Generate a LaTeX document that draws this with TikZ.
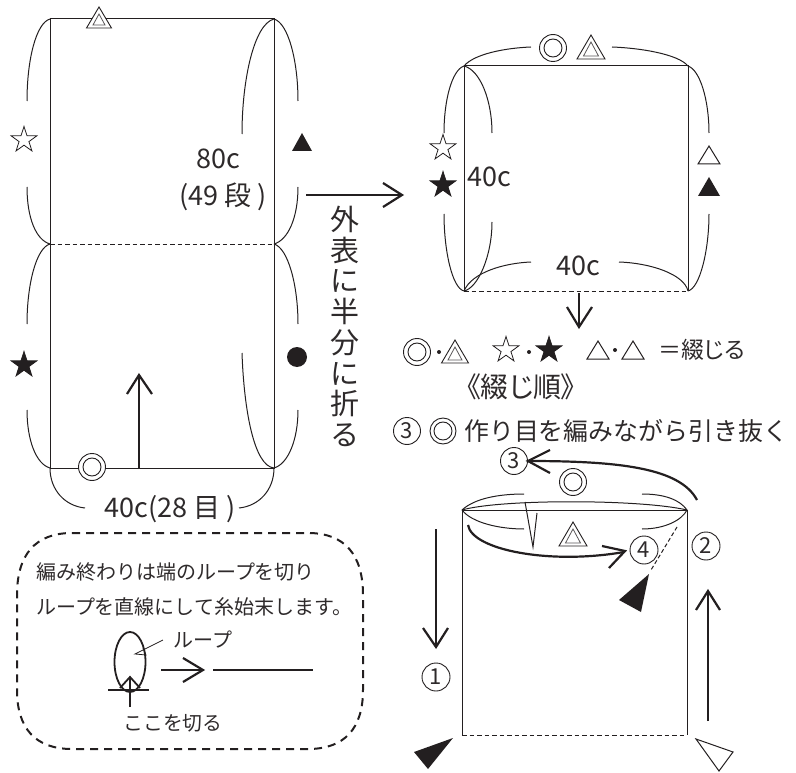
\documentclass[tikz,border=0pt]{standalone}
\usepackage{fontspec}
\usetikzlibrary{shapes.geometric}
\setmainfont{Noto Sans CJK JP}
\newfontfamily\paltfont[RawFeature=+palt]{Noto Sans CJK JP}
\definecolor{ink}{HTML}{231F20}
\definecolor{txt}{HTML}{2E2A2B}
\tikzset{
  thin line/.style={draw=ink,line width=1pt},
  edge line/.style={draw=ink,line width=1pt},
  dash line/.style={draw=ink,line width=0.9pt,dash pattern=on 4.5pt off 3pt},
  heavy/.style={draw=ink,line width=2.2pt},
  txtnode/.style={inner sep=0pt,text=txt,font=\fontsize{#1}{#1}\selectfont},
  whitestar/.style={star,star points=5,star point ratio=2.6,minimum size=27pt,inner sep=0pt,draw=ink,line width=0.8pt,fill=white},
  blackstar/.style={whitestar,fill=ink},
  ringouter/.style={circle,draw=ink,line width=0.9pt,minimum size=27pt,inner sep=0pt,fill=white},
  ringinner/.style={circle,draw=ink,line width=0.9pt,minimum size=18pt,inner sep=0pt},
  numring/.style={circle,draw=ink,line width=0.9pt,minimum size=28pt,inner sep=0pt,text=txt,font=\fontsize{22}{22}\selectfont},
  dotnode/.style={circle,fill=ink,minimum size=4pt,inner sep=0pt},
}
\newcommand{\dbltri}[4]{%
  \draw[ink,line width=0.9pt,fill=white,line join=miter] (#1,#2)--(#1+#3,#4)--(#1-#3,#4)--cycle;
  \draw[ink!75,line width=0.8pt] (#1,#2+7)--(#1+#3-6.5,#4-3)--(#1-#3+6.5,#4-3)--cycle;}
\newcommand{\opentri}[4]{\draw[ink,line width=1pt] (#1,#2)--(#1+#3,#4)--(#1-#3,#4)--cycle;}
\newcommand{\filltri}[4]{\fill[ink] (#1,#2)--(#1+#3,#4)--(#1-#3,#4)--cycle;}
\begin{document}
\begin{tikzpicture}[x=1pt,y=-1pt]
\useasboundingbox (0,0) rectangle (796,773);

%% ---------- left panel
\coordinate (ltl) at (50,19); \coordinate (ltr) at (274,19);
\coordinate (lml) at (50,244); \coordinate (lmr) at (274,244);
\coordinate (lbl) at (50,468); \coordinate (lbr) at (274,468);
\draw[edge line] (lml)--(ltl)--(ltr)--(lmr);
\draw[edge line] (lml)--(lbl)--(lbr)--(lmr);
\draw[dash line] (lml)--(lmr);
\draw[thin line] (ltl) .. controls (36,23) and (27,60) .. (27,101);
\draw[thin line] (27,187) .. controls (27,218) and (36,240) .. (lml);
\draw[thin line] (lml) .. controls (36,248) and (27,285) .. (27,324);
\draw[thin line] (27,410) .. controls (27,440) and (36,464) .. (lbl);
\draw[thin line] (ltr) .. controls (288,23) and (298,60) .. (298,101);
\draw[thin line] (298,187) .. controls (298,218) and (288,240) .. (lmr);
\draw[thin line] (lmr) .. controls (288,248) and (298,285) .. (298,324);
\draw[thin line] (298,410) .. controls (298,440) and (288,464) .. (lbr);
\draw[thin line] (ltr) .. controls (254,24) and (242,80) .. (242,134);
\draw[thin line] (242,353) .. controls (244,410) and (254,466) .. (lbr);
\draw[thin line] (lbl) .. controls (50,490) and (65,506) .. (85,508);
\draw[thin line] (lbr) .. controls (274,490) and (259,506) .. (239,508);
\draw[heavy] (139,469)--(139,376);
\draw[heavy,line join=miter] (127,394)--(139,375)--(152,394);
\dbltri{99}{7}{12.5}{28}
\node[ringouter] (lring) at (92,467) {};
\node[ringinner] (lringi) at (92,467) {};
\node[whitestar] (lwstar) at (24,140) {};
\node[blackstar] (lbstar) at (24,365) {};
\filltri{302}{133}{10}{151}
\node[circle,fill=ink,minimum size=20pt,inner sep=0pt] (lbcirc) at (297,357) {};
\node[txtnode=27] (t80) at (218,159) {80c};
\node[txtnode=27] (t49) at (223,197) {(49 段 )};
\node[txtnode=27] (t4028) at (170,509) {40c(28 目 )};
\draw[heavy] (306,195)--(401,195);
\draw[heavy,line join=miter] (383,183)--(402,195)--(383,207);
\node[inner sep=0pt,text=txt,font=\fontsize{29}{30.7}\selectfont,align=center,anchor=north] (tvert) at (345,206) {外\\表\\に\\半\\分\\に\\折\\る};

%% ---------- right panel
\coordinate (rtl) at (464,66); \coordinate (rtr) at (688,66);
\coordinate (rbl) at (464,291); \coordinate (rbr) at (688,291);
\draw[edge line] (rbl)--(rtl)--(rtr)--(rbr);
\draw[dash line] (rbl)--(rbr);
\draw[thin line] (rtl) .. controls (474,54) and (505,48) .. (531,47);
\draw[thin line] (612,47) .. controls (640,48) and (678,54) .. (rtr);
\draw[thin line] (rtl) .. controls (452,70) and (444,100) .. (444,133);
\draw[thin line] (444,214) .. controls (444,250) and (452,288) .. (rbl);
\draw[thin line] (rtl) .. controls (480,70) and (492,100) .. (492,133);
\draw[thin line] (492,222) .. controls (492,256) and (478,288) .. (rbl);
\draw[thin line] (rtr) .. controls (700,70) and (709,100) .. (709,133);
\draw[thin line] (709,214) .. controls (709,250) and (700,288) .. (rbr);
\draw[thin line] (rbl) .. controls (472,272) and (505,263) .. (531,262);
\draw[thin line] (619,262) .. controls (650,263) and (684,274) .. (rbr);
\node[ringouter] (rring) at (553,48) {};
\node[ringinner] (rringi) at (553,48) {};
\dbltri{591}{35}{14}{59}
\node[whitestar] (rwstar) at (443,148) {};
\node[blackstar] (rbstar) at (443,185) {};
\opentri{709}{146}{11}{164}
\filltri{709}{177}{11}{196}
\node[txtnode=27] (r40a) at (489,177) {40c};
\node[txtnode=27] (r40b) at (578,266) {40c};
\draw[heavy] (579,293)--(579,326);
\draw[heavy,line join=miter] (567,307)--(579,327)--(592,307);

%% ---------- legend line
\node[ringouter] (aring) at (417,352) {};
\node[ringinner] (aringi) at (417,352) {};
\node[dotnode] (d1) at (439,352) {};
\dbltri{455}{340}{13.5}{363}
\node[whitestar] (awstar) at (506,350) {};
\node[dotnode] (d2) at (529,352) {};
\node[blackstar] (abstar) at (549,350) {};
\opentri{598}{341}{11}{359}
\node[dotnode] (d3) at (615,350) {};
\opentri{633}{341}{11}{359}
\node[inner sep=0pt,text=txt,anchor=west,font=\paltfont\fontsize{23}{23}\selectfont] (teq) at (658,350) {＝綴じる};
\node[inner sep=0pt,text=txt,font=\paltfont\fontsize{28}{28}\selectfont] (tord) at (521,387) {《綴じ順》};
\node[numring,minimum size=27pt] (n3a) at (407,431) {3};
\node[ringouter,minimum size=26pt] (bring) at (443,431) {};
\node[ringinner] (bringi) at (443,431) {};
\node[txtnode=24.9,anchor=west] (thead) at (464,431) {作り目を編みながら引き抜く};

%% ---------- bottom right
\coordinate (btl) at (462,510); \coordinate (btr) at (687,510);
\coordinate (bbl) at (462,735); \coordinate (bbr) at (687,735);
\draw[edge line] (bbl)--(btl)--(btr)--(bbr);
\draw[dash line] (bbl)--(bbr);
\draw[thin line] (btl) .. controls (500,499) and (640,499) .. (btr);
\draw[thin line] (btl) .. controls (475,498) and (500,494) .. (524,494);
\draw[thin line] (642,494) .. controls (665,494) and (680,500) .. (btr);
\draw[thin line] (btl) .. controls (472,523) and (500,529) .. (524,529);
\draw[thin line] (642,529) .. controls (665,529) and (682,520) .. (btr);
\draw[thin line] (525,502)--(533,547)--(537,513);
\dbltri{573}{522}{14}{546}
\node[ringouter] (cring) at (573,482) {};
\node[ringinner] (cringi) at (573,482) {};
\node[numring,minimum size=27pt] (n3b) at (514,461) {3};
\node[numring] (n4) at (644,550) {4};
\node[numring] (n2) at (706,546) {2};
\node[numring] (n1) at (436,677) {1};
\draw[heavy] (697,500) .. controls (680,468) and (620,461) .. (n3b.east);
\draw[heavy,line join=miter] (550,450)--(n3b.east)--(550,473);
\draw[heavy] (468,525) .. controls (472,550) and (550,565) .. (624,552);
\draw[heavy,line join=miter] (602,546)--(625,551)--(609,568);
\draw[thin line,dash pattern=on 4pt off 2.5pt] (677,527)--(651,570);
\fill[ink] (649,574)--(619,600)--(641,612)--cycle;
\draw[heavy] (436,529)--(436,646);
\draw[heavy,line join=miter] (423,628)--(436,647)--(448,628);
\draw[heavy] (708,721)--(708,592);
\draw[heavy,line join=miter] (696,610)--(708,591)--(720,610);
\fill[ink] (453,738)--(414,752)--(428,769)--cycle;
\draw[ink,line width=1pt] (696,739)--(733,752)--(719,771)--cycle;

%% ---------- note box
\draw[draw=ink,line width=2pt,dash pattern=on 8pt off 6pt]
  (72,533)--(308,533) .. controls (345,533) and (363,555) .. (363,595)
  --(363,690) .. controls (363,728) and (345,749) .. (308,749)
  --(72,749) .. controls (35,749) and (17,728) .. (17,690)
  --(17,595) .. controls (17,555) and (35,533) .. cycle;
\node[txtnode=20,anchor=west] (tn1) at (36,572) {編み終わりは端のループを切り};
\node[txtnode=20,anchor=west] (tn2) at (36,607) {ループを直線にして糸始末します。};
\draw[ink,line width=1.8pt] (130,662) ellipse [x radius=15.5,y radius=30];
\draw[ink,line width=1.8pt] (108,690)--(149,690);
\draw[ink,line width=1.8pt] (130,707)--(130,678);
\draw[ink,line width=1.8pt,line join=miter] (120,688)--(130,677)--(140,688);
\draw[ink,line width=0.8pt] (163,640)--(135,654)--(146,655)--(143,648);
\node[txtnode=20] (tloop) at (203,640) {ループ};
\draw[heavy] (161,670)--(202,670);
\draw[heavy,line join=miter] (183,658)--(203,670)--(183,682);
\coordinate (ls) at (213,670); \coordinate (le) at (313,670);
\draw[heavy] (ls)--(le);
\node[txtnode=19.8] (tcut) at (173,723) {ここを切る};
\end{tikzpicture}
\end{document}
